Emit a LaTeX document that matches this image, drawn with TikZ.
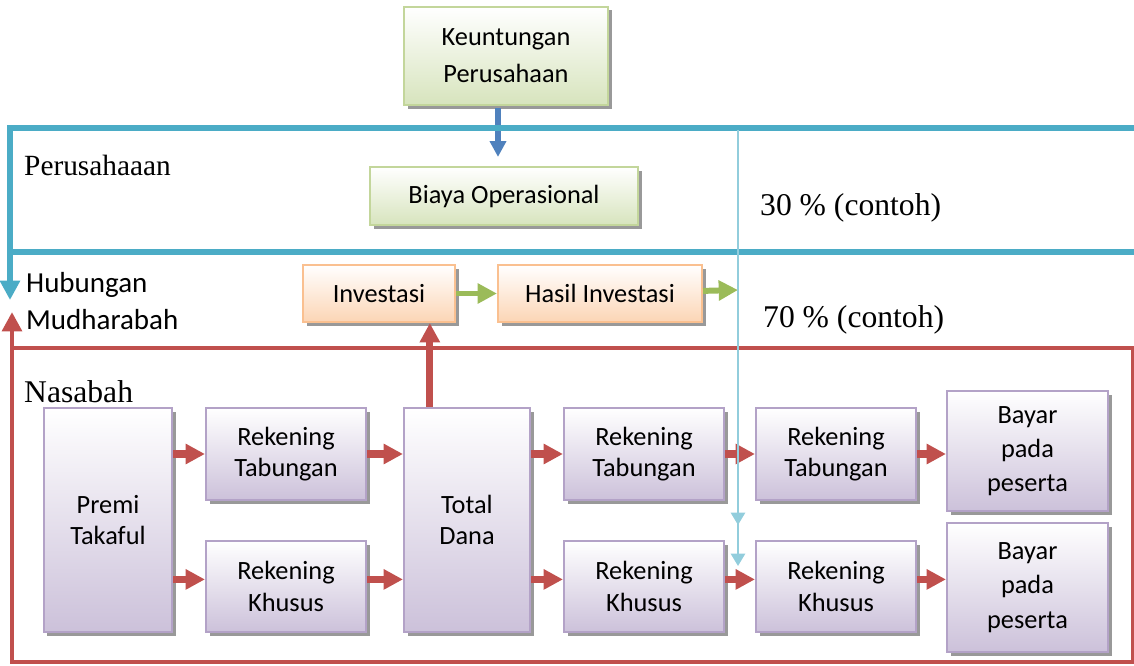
\documentclass[tikz,border=0pt]{standalone}
\usepackage{fontspec}
\setmainfont{Liberation Serif}
\setsansfont{Carlito}
\usetikzlibrary{arrows.meta,shadows,calc}
\definecolor{garisbiru}{HTML}{4BACC6}
\definecolor{garismerah}{HTML}{C0504D}
\definecolor{garishijau}{HTML}{9BBB59}
\definecolor{panahbiru}{HTML}{4F81BD}
\definecolor{garistipis}{HTML}{92CDDC}
\definecolor{tepihijau}{HTML}{C3D69B}
\definecolor{isihijau}{HTML}{D7E4BD}
\definecolor{tepioranye}{HTML}{FAC090}
\definecolor{isioranye}{HTML}{FCD5B5}
\definecolor{tepiungu}{HTML}{B3A2C7}
\definecolor{isiungu}{HTML}{CCC1DA}
\tikzset{
  kotak/.style={draw, line width=1.2pt, top color=white, align=center,
    font=\sffamily\fontsize{15}{18}\selectfont, inner sep=2pt,
    drop shadow={shadow xshift=0.07cm, shadow yshift=-0.07cm, fill=black!40, opacity=1}},
  hijau/.style={kotak, draw=tepihijau, bottom color=isihijau},
  oranye/.style={kotak, draw=tepioranye, bottom color=isioranye},
  ungu/.style={kotak, draw=tepiungu, bottom color=isiungu},
  sz/.style 2 args={minimum width=#1*0.02cm, minimum height=#2*0.02cm},
  panahmerah/.style={draw=garismerah, line width=4pt, -{Triangle[length=11pt,width=11pt]}},
  panahhijau/.style={draw=garishijau, line width=3.4pt, -{Triangle[length=11pt,width=11pt]}},
  judul/.style={anchor=west, font=\fontsize{18}{21}\selectfont}
}
\begin{document}
\begin{tikzpicture}[x=0.02cm, y=-0.02cm]
		\useasboundingbox (0,0) rectangle (1134,666);
		% kotak-kotak
		\node[hijau, sz={204}{98}] (keu) at (506,56) {Keuntungan\\[3pt]Perusahaan};
		\node[hijau, sz={268}{58}] (biaya) at (504,196) {Biaya Operasional};
		\node[oranye, sz={152}{57}] (inv) at (379,293.5) {Investasi};
		\node[oranye, sz={204}{57}] (hasil) at (600,293.5) {Hasil Investasi};
		\node[ungu, sz={128}{224}] (premi) at (108,520) {Premi\\Takaful};
		\node[ungu, sz={160}{92}] (rt1) at (286,454) {Rekening\\Tabungan};
		\node[ungu, sz={160}{91}] (rk1) at (286,586.5) {Rekening\\Khusus};
		\node[ungu, sz={126}{224}] (total) at (467,520) {Total\\Dana};
		\node[ungu, sz={160}{92}] (rt2) at (644,454) {Rekening\\Tabungan};
		\node[ungu, sz={160}{91}] (rk2) at (644,586.5) {Rekening\\Khusus};
		\node[ungu, sz={160}{92}] (rt3) at (836,454) {Rekening\\Tabungan};
		\node[ungu, sz={160}{91}] (rk3) at (836,586.5) {Rekening\\Khusus};
		\node[ungu, sz={161}{120}, font=\sffamily\fontsize{15}{19.5}\selectfont] (bay1) at (1027.5,451) {Bayar\\pada\\peserta};
		\node[ungu, sz={161}{129}, font=\sffamily\fontsize{15}{19.5}\selectfont] (bay2) at (1027.5,587.5) {Bayar\\pada\\peserta};
		% teks
		\node[judul, font=\fontsize{16.7}{20}\selectfont] (tperus) at (18,165) {Perusahaaan};
		\node[judul] (t30) at (754,208) {30 \% (contoh)};
		\node[judul] (t70) at (757,320) {70 \% (contoh)};
		\node[judul] (tnas) at (18,392) {Nasabah};
		\node[anchor=west, align=left, font=\sffamily\fontsize{16.5}{21.5}\selectfont] (thub) at (20,301) {Hubungan\\Mudharabah};
		% garis perusahaan
		\draw[panahbiru, line width=3.4pt, -{Triangle[length=9pt,width=9pt]}, shorten >=0.18cm] (keu.south) ++(-8,2) coordinate (b0) -- (b0 |- biaya.north);
		\draw[garisbiru, line width=3.4pt, -{Triangle[length=11pt,width=11pt]}] (1134,128) -- (10,128) -- (10,300); %atas
		\draw[garisbiru, line width=3.4pt] (10,252) -- (1134,252); %bawah
		% garis nasabah
		\draw[garismerah, line width=2.8pt] (12,348) rectangle (1133,662);
		\draw[garismerah, line width=2.8pt, -{Triangle[length=11pt,width=11pt]}] (12,350) -- (12,312);
		% panah
		\coordinate (bagi) at (738,290);
		\draw[panahhijau] (inv) -- (hasil);
		\draw[panahhijau] (hasil) -- (bagi);
		\draw[panahmerah] ($(total.north west)!0.21!(total.north east)$) coordinate (t0) -- (t0 |- inv.south);
		\draw[panahmerah] (premi.east |- rt1) -- (rt1);
		\draw[panahmerah] (premi.east |- rk1.175) -- (rk1.175);
		\draw[panahmerah] (rt1) -- (total.west |- rt1);
		\draw[panahmerah] (rk1.5) -- (total.west |- rk1.5);
		\draw[panahmerah] (total.east |- rt2) -- (rt2);
		\draw[panahmerah] (total.east |- rk2.175) -- (rk2.175);
		\draw[panahmerah] (rt2) -- (rt3);
		\draw[panahmerah] (rk2.5) -- (rk3.175);
		\draw[panahmerah] (rt3) -- (bay1.west |- rt3);
		\draw[panahmerah] (rk3.5) -- (bay2.west |- rk3.5);
		% garis bagi hasil
		\draw[garistipis, line width=1.3pt, -{Triangle[length=7pt,width=8pt]}] (738,130) -- (738,525);
		\draw[garistipis, line width=1.3pt, -{Triangle[length=7pt,width=8pt]}] (738,520) -- (738,566);
	\end{tikzpicture}
\end{document}
